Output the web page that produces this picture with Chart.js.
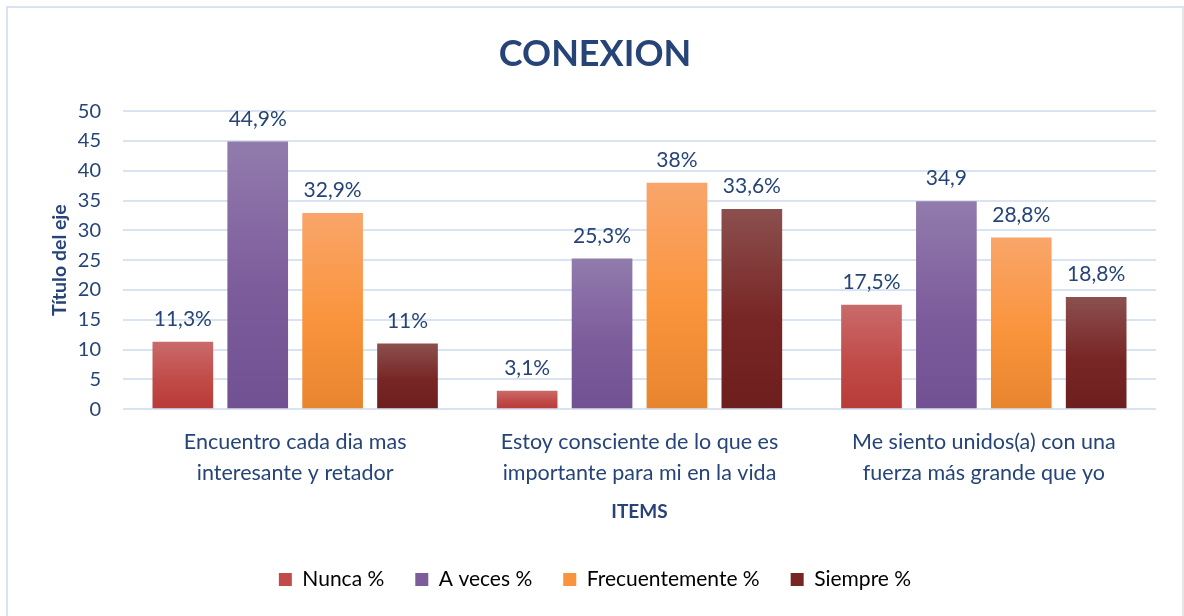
<!DOCTYPE html>
<html lang="es">
<head>
<meta charset="UTF-8"/>
<title>CONEXION</title>
<script src="https://cdn.jsdelivr.net/npm/chart.js@4/dist/chart.umd.min.js"></script>
<style>
  *{box-sizing:border-box;margin:0;padding:0}
  html,body{width:1184px;height:616px;overflow:hidden;background:#fff}
  .frame{position:absolute;left:6px;top:6px;width:1178px;height:640px;border:2px solid #dae3f1;border-right-color:#e6e6e6}
  .wrap{position:absolute;left:0;top:0;width:1184px;height:616px}
</style>
</head>
<body>
<div class="frame"></div>
<div class="wrap"><canvas id="chart"></canvas></div>
<script>
// ── Data ─────────────────────────────────────────────────────────────────────
const categories = [
  ["Encuentro cada dia mas", "interesante y retador"],
  ["Estoy consciente de lo que es", "importante para mi en la vida"],
  ["Me siento unidos(a) con una", "fuerza más grande que yo"],
];
const seriesNames = ["Nunca %", "A veces %", "Frecuentemente %", "Siempre %"];
const nunca          = [11.3, 3.1, 17.5];
const aVeces         = [44.9, 25.3, 34.9];
const frecuentemente = [32.9, 38, 28.8];
const siempre        = [11, 33.6, 18.8];
const nuncaLabels          = ["11,3%", "3,1%", "17,5%"];
const aVecesLabels         = ["44,9%", "25,3%", "34,9"];
const frecuentementeLabels = ["32,9%", "38%", "28,8%"];
const siempreLabels        = ["11%", "33,6%", "18,8%"];
const yTicks = [0, 5, 10, 15, 20, 25, 30, 35, 40, 45, 50];

// ── Styles ───────────────────────────────────────────────────────────────────
const TEXT = '#264478';
const FONT = 'Lato, "Open Sans", sans-serif';
const GRADS = [
  ['#c96b6b', '#c14b48', '#b83b38'],
  ['#917bac', '#7d5c9c', '#715192'],
  ['#f9a56a', '#fa943c', '#e7852e'],
  ['#8b504e', '#782625', '#6d1f1d'],
];

function barGradient(i) {
  return ctx => {
    const chart = ctx.chart;
    const y = chart.scales.y;
    if (!y || ctx.parsed == null) return GRADS[i][1];
    const top = y.getPixelForValue(ctx.parsed.y);
    const base = y.getPixelForValue(0);
    if (!isFinite(top) || !isFinite(base) || top === base) return GRADS[i][1];
    const g = chart.ctx.createLinearGradient(0, top, 0, base);
    g.addColorStop(0, GRADS[i][0]);
    g.addColorStop(0.55, GRADS[i][1]);
    g.addColorStop(1, GRADS[i][2]);
    return g;
  };
}

const allValues = [nunca, aVeces, frecuentemente, siempre];
const allLabels = [nuncaLabels, aVecesLabels, frecuentementeLabels, siempreLabels];

const datasets = seriesNames.map((name, i) => ({
  label: name,
  data: allValues[i],
  valueLabels: allLabels[i],
  backgroundColor: barGradient(i),
  borderWidth: 0,
  barPercentage: 0.81,
  categoryPercentage: 0.87,
}));

// value labels above bars
const valueLabels = {
  id: 'valueLabels',
  afterDatasetsDraw(chart) {
    const c = chart.ctx;
    c.save();
    c.font = `21px ${FONT}`;
    c.fillStyle = TEXT;
    c.textAlign = 'center';
    c.textBaseline = 'bottom';
    chart.data.datasets.forEach((ds, di) => {
      chart.getDatasetMeta(di).data.forEach((bar, i) => {
        c.fillText(ds.valueLabels[i], bar.x, bar.y - 12);
      });
    });
    c.restore();
  }
};

new Chart(document.getElementById('chart'), {
  type: 'bar',
  data: { labels: categories, datasets },
  plugins: [valueLabels],
  options: {
    responsive: true,
    maintainAspectRatio: false,
    animation: false,
    layout: { padding: { left: 34, right: 28, top: 20, bottom: 16 } },
    plugins: {
      title: {
        display: true,
        text: 'CONEXION',
        color: TEXT,
        font: { family: FONT, size: 36, weight: 'bold' },
        padding: { top: 13, bottom: 35 },
      },
      legend: {
        position: 'bottom',
        labels: {
          color: TEXT,
          font: { family: FONT, size: 21 },
          boxWidth: 13,
          boxHeight: 13,
          padding: 31,
          generateLabels: chart => seriesNames.map((n, i) => ({
            text: n, fillStyle: GRADS[i][1], strokeStyle: GRADS[i][1],
            lineWidth: 0, datasetIndex: i, hidden: false,
          })),
        },
      },
      tooltip: { enabled: false },
    },
    scales: {
      x: {
        grid: { display: false },
        border: { display: false },
        ticks: { color: TEXT, font: { family: FONT, size: 21.5, lineHeight: 1.42 }, padding: 10 },
        title: {
          display: true, text: 'ITEMS', color: TEXT,
          font: { family: FONT, size: 19, weight: 'bold' }, padding: { top: 2, bottom: 15 },
        },
      },
      y: {
        min: 0,
        max: 50,
        afterBuildTicks: axis => { axis.ticks = yTicks.map(v => ({ value: v })); },
        afterFit: axis => { axis.width = 89; },
        grid: { color: '#d9e3f1', lineWidth: 2, drawTicks: false },
        border: { display: false },
        ticks: { color: TEXT, font: { family: FONT, size: 20 }, padding: 22 },
        title: {
          display: true, text: 'Título del eje', color: TEXT,
          font: { family: FONT, size: 19.5, weight: 'bold' }, padding: { top: 14, bottom: 0 },
        },
      },
    },
  },
});
</script>
</body>
</html>
